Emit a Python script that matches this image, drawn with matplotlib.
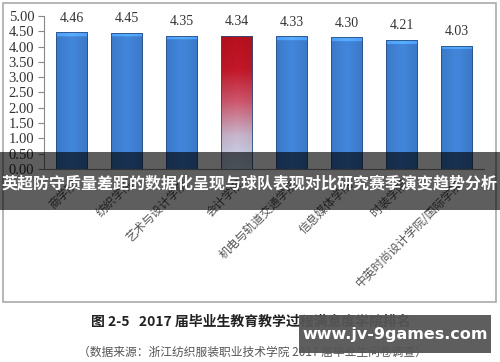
import matplotlib.pyplot as plt
import numpy as np
from matplotlib.colors import LinearSegmentedColormap, to_rgb
from matplotlib.patches import Rectangle

plt.rcParams['font.family'] = ['Liberation Serif', 'Noto Sans CJK SC']

categories = ['商学院', '纺织学院', '艺术与设计学院', '会计学院',
              '机电与轨道交通学院', '信息媒体学院', '时装学院', '中英时尚设计学院/国际学院']
values = [4.46, 4.45, 4.35, 4.34, 4.33, 4.30, 4.21, 4.03]
highlight = 3
yticks = [0.0, 0.5, 1.0, 1.5, 2.0, 2.5, 3.0, 3.5, 4.0, 4.5, 5.0]

title = '英超防守质量差距的数据化呈现与球队表现对比研究赛季演变趋势分析'
caption = '图 2-5   2017 届毕业生教育教学过程满意度学院排名'
source = '（数据来源：浙江纺织服装职业技术学院 2017 届毕业生问卷调查）'
watermark = 'www.jv-9games.com'

fig = plt.figure(figsize=(5, 3.62), dpi=100)
ax = fig.add_axes([0.088, 0.533, 0.88, 0.423])

x = np.arange(len(categories))
bars = ax.bar(x, values, width=0.58, facecolor='none', edgecolor='#2a4f80', linewidth=0.6, zorder=3)

# horizontal shading across each bar
h = np.linspace(0, 1, 64)
shade = 1 - 0.35 * np.abs(h - 0.5) * 2
blue = np.array(to_rgb('#3f80d2'))
red_cmap = LinearSegmentedColormap.from_list('rb', ['#c6ddf4', '#c9b6cc', '#cf5a70', '#c4182a', '#b8101c'])

for i, b in enumerate(bars):
    x0, w, top = b.get_x(), b.get_width(), b.get_height()
    if i == highlight:
        v = np.linspace(0, 1, 128)[:, None]
        img = red_cmap(v)[:, :, :3] * (0.85 + 0.15 * shade[None, :, None])
    else:
        img = np.tile(blue * (0.75 + 0.3 * shade[:, None]), (128, 1, 1))
        img[-4:] = np.clip(img[-4:] * 1.3, 0, 1)
    im = ax.imshow(np.clip(img, 0, 1), extent=[x0, x0 + w, 0, top], origin='lower',
                   aspect='auto', zorder=2, interpolation='bilinear')
    im.set_clip_path(b)
    ax.text(x[i], top + 0.25, f'{values[i]:.2f}', ha='center', va='bottom', fontsize=10, color='#333333')

ax.set_xlim(-0.5, len(categories) - 0.5)
ax.set_ylim(0, 5)
ax.set_yticks(yticks)
ax.set_yticklabels([f'{t:.2f}' for t in yticks], fontsize=10.5, color='#333333')
ax.tick_params(axis='y', direction='out', length=4, color='#888888', pad=3)
ax.set_xticks(x)
ax.set_xticklabels(categories, rotation=45, ha='right', rotation_mode='anchor',
                   fontsize=8.5, color='#555555', family=['Noto Sans CJK SC'])
ax.tick_params(axis='x', length=0, pad=6)
for s in ['top', 'right']:
    ax.spines[s].set_visible(False)
ax.spines['left'].set_color('#888888')
ax.spines['bottom'].set_color('#888888')

# outer chart frame
fig.patches.append(Rectangle((0.006, 0.166), 0.986, 0.826, transform=fig.transFigure,
                             fill=False, edgecolor='#aaaaaa', linewidth=1.2, zorder=0))

# dark overlay band with title
fig.patches.append(Rectangle((0, 0.42), 1, 0.16, transform=fig.transFigure,
                             facecolor='black', alpha=0.63, zorder=10))
fig.text(0.5, 0.492, title, ha='center', va='center', color='white', fontsize=11.5,
         fontweight='bold', family=['Noto Sans CJK SC'], zorder=11)

fig.text(0.502, 0.11, caption, ha='center', va='center', fontsize=10, fontweight='bold',
         color='#222222', family=['Noto Sans CJK SC'])
fig.text(0.505, 0.028, source, ha='center', va='center', fontsize=8.5,
         color='#555555', family=['Noto Sans CJK SC'])

fig.patches.append(Rectangle((0.598, 0.025), 0.384, 0.105, transform=fig.transFigure,
                             facecolor='#555555', alpha=0.95, zorder=10))
fig.text(0.79, 0.077, watermark, ha='center', va='center', color='white', fontsize=11.5,
         fontweight='bold', family=['DejaVu Sans'], zorder=11)

fig.savefig('out.png', dpi=100)
